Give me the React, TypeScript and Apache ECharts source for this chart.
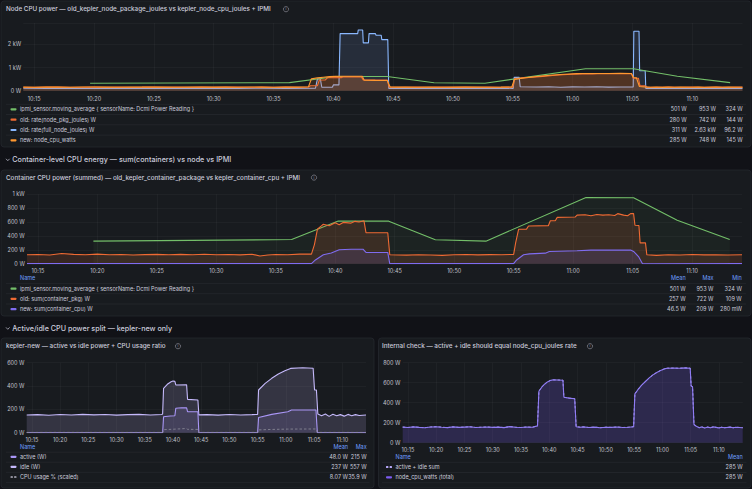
import { useEffect, useRef } from "react";
import * as echarts from "echarts";

// ---- time window shared by every panel ----
const X_MIN = "10:14:05";
const X_MAX = "11:14:12";
const X_TICKS = [
  "10:15", "10:20", "10:25", "10:30", "10:35", "10:40",
  "10:45", "10:50", "10:55", "11:00", "11:05", "11:10",
];

// ---- IPMI moving average (node wall power) ----
const ipmiMovingAvg: [string, number][] = [
  ["10:19:40", 325], ["10:36:20", 348], ["10:40:15", 615], ["10:44:30", 613],
  ["10:48:25", 345], ["10:52:40", 325], ["11:01:05", 953], ["11:05:05", 950],
  ["11:08:45", 625], ["11:13:10", 348],
];

// ---- new exporter: node_cpu_watts ----
const nodeCpuWatts: [string, number][] = [
  ["10:14:05", 156], ["10:15", 152], ["10:16", 158], ["10:17", 153], ["10:18", 150],
  ["10:19", 157], ["10:20", 160], ["10:21", 155], ["10:22", 151], ["10:23", 158],
  ["10:24", 153], ["10:25", 156], ["10:26", 159], ["10:27", 152], ["10:28", 155],
  ["10:29", 157], ["10:30", 153], ["10:31", 156], ["10:32", 151], ["10:33", 161],
  ["10:34", 155], ["10:35", 152], ["10:36", 157], ["10:37", 154], ["10:37:55", 168],
  ["10:38:10", 515], ["10:38:40", 555], ["10:39:10", 585], ["10:39:40", 608],
  ["10:40:10", 622], ["10:40:40", 628], ["10:41:30", 627], ["10:42:25", 625],
  ["10:42:35", 455], ["10:43:30", 446], ["10:44:30", 440], ["10:44:45", 160],
  ["10:45:30", 155], ["10:46", 158], ["10:47", 152], ["10:48", 156], ["10:49", 150],
  ["10:50", 155], ["10:51", 153], ["10:52", 157], ["10:53", 152], ["10:54", 155],
  ["10:54:55", 160], ["10:55:08", 488], ["10:55:40", 530], ["10:56:20", 575],
  ["10:57", 612], ["10:57:40", 648], ["10:58:20", 678], ["10:59", 702],
  ["10:59:40", 722], ["11:00:20", 738], ["11:00:50", 745], ["11:02", 746],
  ["11:03", 744], ["11:04", 748], ["11:04:55", 745], ["11:05:05", 568],
  ["11:05:20", 560], ["11:05:35", 182], ["11:06", 165], ["11:06:30", 150],
  ["11:07", 158], ["11:07:30", 146], ["11:08", 156], ["11:08:30", 150],
  ["11:09", 158], ["11:10", 148], ["11:10:30", 155], ["11:11", 150], ["11:12", 156],
  ["11:12:30", 149], ["11:13", 155], ["11:14:12", 150],
];

// ---- old exporter: rate(node_pkg_joules) ----
const oldNodePkg: [string, number][] = [
  ["10:14:05", 150], ["10:15", 146], ["10:16", 155], ["10:17", 160], ["10:18", 152],
  ["10:19", 148], ["10:20", 156], ["10:21", 150], ["10:22", 158], ["10:23", 147],
  ["10:24", 153], ["10:25", 162], ["10:26", 149], ["10:27", 155], ["10:28", 151],
  ["10:29", 158], ["10:30", 146], ["10:31", 154], ["10:32", 160], ["10:33", 148],
  ["10:34", 155], ["10:35", 150], ["10:36", 157], ["10:37", 152], ["10:37:55", 158],
  ["10:38:05", 215], ["10:38:40", 215], ["10:38:50", 465], ["10:39:20", 470],
  ["10:39:30", 560], ["10:40:40", 565], ["10:40:50", 600], ["10:42:20", 605],
  ["10:42:30", 470], ["10:44:30", 465], ["10:44:40", 152], ["10:45:30", 148],
  ["10:47", 156], ["10:48", 150], ["10:49", 158], ["10:50", 146], ["10:51", 154],
  ["10:52", 150], ["10:53", 156], ["10:54", 148], ["10:55", 155], ["10:55:10", 540],
  ["10:55:35", 545], ["10:55:45", 560], ["10:56:40", 585], ["10:57:30", 620],
  ["10:58:20", 655], ["10:59:10", 690], ["11:00", 710], ["11:00:50", 725],
  ["11:01:40", 730], ["11:02:30", 742], ["11:03:20", 735], ["11:04:10", 740],
  ["11:04:55", 738], ["11:05:05", 540], ["11:05:30", 540], ["11:05:38", 210],
  ["11:06:05", 210], ["11:06:12", 152], ["11:07", 146], ["11:08", 158], ["11:09", 150],
  ["11:10", 155], ["11:11", 144], ["11:12", 156], ["11:13", 150], ["11:14:12", 153],
];

// ---- old exporter: rate(full_node_joules) ----
const oldFullNode: [string, number][] = [
  ["10:14:05", 104], ["10:16", 100], ["10:18", 108], ["10:20", 98], ["10:22", 105],
  ["10:24", 101], ["10:26", 110], ["10:28", 99], ["10:30", 104], ["10:32", 97],
  ["10:34", 106], ["10:36", 100], ["10:38:30", 103], ["10:38:40", 505],
  ["10:38:55", 505], ["10:39:02", 150], ["10:39:55", 150], ["10:40:00", 250],
  ["10:40:28", 250], ["10:40:34", 2470], ["10:42:02", 2470], ["10:42:05", 2630],
  ["10:42:27", 2630], ["10:42:30", 2070], ["10:42:56", 2070], ["10:42:59", 2470],
  ["10:43:31", 2470], ["10:43:34", 2400], ["10:44:00", 2400], ["10:44:03", 2210],
  ["10:44:33", 2210], ["10:44:38", 100], ["10:46", 106], ["10:48", 98], ["10:50", 103],
  ["10:52", 100], ["10:54", 105], ["10:55:02", 102], ["10:55:07", 578],
  ["10:55:32", 578], ["10:55:37", 170], ["10:57", 160], ["10:58", 172], ["10:59", 150],
  ["11:00", 165], ["11:01", 158], ["11:02", 170], ["11:03", 155], ["11:04", 162],
  ["11:05:04", 160], ["11:05:07", 2570], ["11:05:33", 2570], ["11:05:36", 862],
  ["11:06:04", 862], ["11:06:07", 100], ["11:08", 104], ["11:10", 98], ["11:12", 102],
  ["11:14:12", 99],
];

// ---- summed container power ----
const oldContainerPkg: [string, number][] = [
  ["10:14:05", 128], ["10:15", 132], ["10:16", 126], ["10:17", 148], ["10:18", 135],
  ["10:19", 130], ["10:20", 138], ["10:21", 129], ["10:22", 133], ["10:23", 126],
  ["10:24", 131], ["10:25", 135], ["10:26", 128], ["10:27", 134], ["10:28", 130],
  ["10:29", 137], ["10:30", 129], ["10:31", 132], ["10:32", 127], ["10:33", 136],
  ["10:33:40", 112], ["10:34:20", 126], ["10:35", 133], ["10:36", 129], ["10:37", 138],
  ["10:38", 138], ["10:38:15", 275], ["10:38:30", 496], ["10:38:50", 544],
  ["10:39", 569], ["10:39:30", 548], ["10:40", 590], ["10:40:20", 560],
  ["10:40:40", 595], ["10:41:20", 585], ["10:41:40", 610], ["10:42", 600],
  ["10:42:25", 618], ["10:42:35", 447], ["10:44:25", 447], ["10:44:35", 128],
  ["10:46", 123], ["10:47", 130], ["10:48", 126], ["10:49", 120], ["10:50", 128],
  ["10:51", 132], ["10:52", 127], ["10:53", 131], ["10:54", 129], ["10:55", 135],
  ["10:55:10", 300], ["10:55:25", 496], ["10:56:05", 498], ["10:56:15", 544],
  ["10:57:55", 548], ["10:58:05", 618], ["10:58:30", 620], ["10:58:40", 667],
  ["11:00:10", 672], ["11:00:20", 700], ["11:01", 705], ["11:01:30", 690],
  ["11:02", 710], ["11:02:30", 700], ["11:03", 706], ["11:03:30", 695],
  ["11:03:45", 722], ["11:04:15", 700], ["11:04:35", 690], ["11:04:50", 722],
  ["11:05:05", 722], ["11:05:12", 554], ["11:05:32", 550], ["11:05:38", 300],
  ["11:06:05", 300], ["11:06:12", 128], ["11:07", 120], ["11:08", 130], ["11:09", 125],
  ["11:10", 132], ["11:11", 127], ["11:12", 130], ["11:13", 126], ["11:14:12", 129],
];

const newContainerCpu: [string, number][] = [
  ["10:14:05", 0.5], ["10:38", 0.6], ["10:38:20", 54], ["10:39", 128], ["10:39:40", 153],
  ["10:40:20", 201], ["10:41:20", 209], ["10:42:20", 209], ["10:42:35", 162],
  ["10:44:25", 162], ["10:44:35", 0.4], ["10:55", 0.5], ["10:55:15", 54],
  ["10:55:50", 128], ["10:56:20", 142], ["10:57:40", 152], ["10:58", 176],
  ["11:00:20", 186], ["11:01:30", 196], ["11:04:50", 196], ["11:05:05", 176],
  ["11:05:30", 103], ["11:05:50", 0.3], ["11:14:12", 0.5],
];

// ---- kepler-new active / idle split ----
const activeWatts: [string, number][] = [
  ["10:14:05", 0], ["10:38:10", 0], ["10:38:20", 137], ["10:39:30", 143],
  ["10:40:20", 145], ["10:40:30", 209], ["10:41:30", 214], ["10:42:25", 213],
  ["10:42:35", 180], ["10:44:25", 180], ["10:44:35", 0], ["10:55", 0],
  ["10:55:10", 131], ["10:57:30", 157], ["11:00:20", 180], ["11:01", 194],
  ["11:05:20", 194], ["11:05:35", 0], ["11:14:12", 0],
];

const idleWatts: [string, number][] = [
  ["10:14:05", 152], ["10:16", 155], ["10:18", 150], ["10:20", 156], ["10:22", 152],
  ["10:24", 157], ["10:26", 153], ["10:28", 156], ["10:30", 151], ["10:32", 155],
  ["10:34", 157], ["10:36", 152], ["10:38", 156], ["10:38:10", 160], ["10:38:20", 380],
  ["10:39", 415], ["10:39:40", 437], ["10:40", 443], ["10:40:20", 440],
  ["10:40:30", 409], ["10:42:25", 410], ["10:42:35", 286], ["10:44:25", 280],
  ["10:44:35", 153], ["10:46", 155], ["10:48", 151], ["10:50", 156], ["10:52", 152],
  ["10:54", 155], ["10:55", 157], ["10:55:10", 366], ["10:56:20", 423],
  ["10:57:30", 466], ["10:58:40", 503], ["10:59:50", 531], ["11:00:50", 551],
  ["11:03", 557], ["11:04:50", 552], ["11:05:05", 366], ["11:05:25", 366],
  ["11:05:40", 160], ["11:06:20", 145], ["11:07", 160], ["11:07:40", 140],
  ["11:08:20", 158], ["11:09", 145], ["11:09:40", 155], ["11:10:20", 142],
  ["11:11", 157], ["11:11:40", 146], ["11:12:20", 155], ["11:13", 148], ["11:14:12", 152],
];

const cpuUsageScaled: [string, number][] = [
  ["10:14:05", 2.2], ["10:20", 2.6], ["10:30", 2.3], ["10:38:10", 2.5], ["10:38:20", 26],
  ["10:40:30", 31], ["10:42:25", 35.9], ["10:42:35", 29], ["10:44:25", 28],
  ["10:44:35", 2.4], ["10:55", 2.5], ["10:55:10", 24], ["10:57:30", 28],
  ["11:00:20", 31], ["11:05:20", 32], ["11:05:35", 2.6], ["11:14:12", 2.3],
];

// ---- legend tables ----
const nodeLegendNames = [
  "ipmi_sensor.moving_average { sensorName: Dcmi Power Reading }",
  "old: rate(node_pkg_joules) W",
  "old: rate(full_node_joules) W",
  "new: node_cpu_watts",
];
const nodeLegendStats = [
  ["501 W", "953 W", "324 W"],
  ["280 W", "742 W", "144 W"],
  ["311 W", "2.63 kW", "96.2 W"],
  ["285 W", "748 W", "145 W"],
];
const containerLegendNames = [
  "ipmi_sensor.moving_average { sensorName: Dcmi Power Reading }",
  "old: sum(container_pkg) W",
  "new: sum(container_cpu) W",
];
const containerLegendStats = [
  ["501 W", "953 W", "324 W"],
  ["257 W", "722 W", "109 W"],
  ["46.5 W", "209 W", "280 mW"],
];
const splitLegendNames = ["active (W)", "idle (W)", "CPU usage % (scaled)"];
const splitLegendStats = [
  ["48.0 W", "215 W"],
  ["237 W", "557 W"],
  ["8.07 W", "35.9 W"],
];
const checkLegendNames = ["active + idle sum", "node_cpu_watts (total)"];
const checkLegendStats = [["285 W"], ["285 W"]];

// ---- styling ----
const FONT = "Inter, 'Noto Sans', sans-serif";
const TXT = "#ccccdc";
const AXIS_TXT = "#c2c3cc";
const GRID_LINE = "rgba(204,204,220,0.08)";
const SEP_LINE = "rgba(204,204,220,0.10)";
const HEAD_BLUE = "#6e9fff";
const PANEL_BG = "#181b1f";
const PANEL_BORDER = "#25282e";

const C_IPMI = "#73bf69";
const C_OLD_PKG = "#ef6a33";
const C_NEW_CPU = "#ff9830";
const C_FULL = "#8ab8ff";
const C_CONT_NEW = "#7f6cf0";
const C_ACTIVE = "#a996f6";
const C_IDLE = "#c5b9fb";
const C_USAGE = "#8e8e9a";
const C_SUM = "#b7a9f8";
const C_TOTAL = "#7c5cf2";

const ts = (hms: string) => {
  const [h, m, s] = hms.split(":").map(Number);
  return Date.UTC(2024, 0, 1, h, m, s || 0);
};
const pts = (rows: [string, number][]) => rows.map(([t, v]) => [ts(t), v]);
const pad = (n: number) => (n < 10 ? "0" : "") + n;
const X_TICK_VALUES = X_TICKS.map(ts);

function lineSeries(
  rows: [string, number][],
  color: string,
  idx: number,
  opts: { fill?: number; fillColor?: string; dash?: boolean; z?: number; width?: number } = {}
) {
  return {
    type: "line",
    xAxisIndex: idx,
    yAxisIndex: idx,
    data: pts(rows),
    symbol: "none",
    showSymbol: false,
    z: opts.z ?? 2,
    lineStyle: { color, width: opts.width ?? 1.1, type: opts.dash ? [2.5, 2] : "solid" },
    itemStyle: { color },
    areaStyle: opts.fill ? { color: opts.fillColor ?? color, opacity: opts.fill } : undefined,
  };
}

const grids = [
  { left: 23.3, top: 23, width: 719.2, height: 67.7 },
  { left: 27, top: 194.3, width: 715, height: 69.4 },
  { left: 26.7, top: 362.7, width: 339.3, height: 70 },
  { left: 402.7, top: 362.7, width: 340, height: 80 },
];

const yFormat = (v: number) =>
  v === 0 ? "0 W" : v >= 1000 ? `${v / 1000} kW` : `${v} W`;

const yMax = [2930, 1000, 600, 800];
const yStep = [1000, 200, 200, 200];
const xLabelMargin = [5, 4.5, 4, 4.5];

type G = Record<string, unknown>;

function txt(x: number, y: number, text: string, o: G = {}): G {
  return {
    type: "text",
    x,
    y,
    silent: true,
    style: {
      text,
      fill: (o.fill as string) ?? TXT,
      fontSize: (o.size as number) ?? 5.5,
      fontFamily: FONT,
      fontWeight: (o.weight as number) ?? 400,
      align: (o.align as string) ?? "left",
      verticalAlign: "middle",
    },
  };
}

function hline(x1: number, x2: number, y: number, color = SEP_LINE): G {
  return {
    type: "line",
    silent: true,
    shape: { x1, y1: y, x2, y2: y },
    style: { stroke: color, lineWidth: 0.6 },
  };
}

function panel(x: number, y: number, w: number, h: number): G {
  return {
    type: "rect",
    silent: true,
    z: -10,
    shape: { x, y, width: w, height: h, r: 3 },
    style: { fill: PANEL_BG, stroke: PANEL_BORDER, lineWidth: 0.8 },
  };
}

function infoIcon(cx: number, cy: number): G[] {
  return [
    {
      type: "circle",
      silent: true,
      shape: { cx, cy, r: 2.6 },
      style: { fill: "none", stroke: "#9a9aa6", lineWidth: 0.6 },
    },
    txt(cx, cy + 0.2, "i", { size: 3.6, align: "center", fill: "#9a9aa6" }),
  ];
}

function chevron(x: number, y: number): G {
  return {
    type: "polyline",
    silent: true,
    shape: { points: [[x, y - 1], [x + 1.8, y + 0.9], [x + 3.6, y - 1]] },
    style: { stroke: TXT, lineWidth: 0.7, fill: "none" },
  };
}

function swatch(x: number, y: number, color: string, dash = false): G[] {
  if (dash) {
    return [
      { type: "rect", silent: true, shape: { x, y: y - 1, width: 2.4, height: 2, r: 0.6 }, style: { fill: color } },
      { type: "rect", silent: true, shape: { x: x + 3.6, y: y - 1, width: 2.4, height: 2, r: 0.6 }, style: { fill: color } },
    ];
  }
  return [
    { type: "rect", silent: true, shape: { x, y: y - 1.1, width: 6, height: 2.2, r: 0.8 }, style: { fill: color } },
  ];
}

function legendTable(
  names: string[],
  stats: string[][],
  colors: string[],
  dashes: boolean[],
  rowsY: number[],
  sepY: number[],
  nameX: number,
  colRight: number[],
  sepX: [number, number],
  header?: { y: number; labels: string[] }
): G[] {
  const out: G[] = [];
  sepY.forEach((y) => out.push(hline(sepX[0], sepX[1], y)));
  if (header) {
    out.push(txt(nameX, header.y, "Name", { fill: HEAD_BLUE }));
    header.labels.forEach((l, i) =>
      out.push(txt(colRight[i], header.y, l, { fill: HEAD_BLUE, align: "right" }))
    );
  }
  names.forEach((n, i) => {
    out.push(...swatch(nameX - 9.5, rowsY[i], colors[i], dashes[i]));
    out.push(txt(nameX, rowsY[i], n));
    stats[i].forEach((s, j) => out.push(txt(colRight[j], rowsY[i], s, { align: "right" })));
  });
  return out;
}

function buildOption() {
  const graphics: G[] = [
    panel(1, 1, 750, 146),
    panel(1, 170, 750, 146),
    panel(1, 338, 373, 150),
    panel(378.5, 338, 372.5, 150),

    txt(6, 9.2, "Node CPU power — old_kepler_node_package_joules vs kepler_node_cpu_joules + IPMI", { size: 6.3, weight: 500 }),
    ...infoIcon(286, 9.2),
    chevron(6, 159.8),
    txt(12.3, 159.8, "Container-level CPU energy — sum(containers) vs node vs IPMI", { size: 7.2, weight: 500 }),
    txt(6, 177.6, "Container CPU power (summed) — old_kepler_container_package vs kepler_container_cpu + IPMI", { size: 6.3, weight: 500 }),
    ...infoIcon(314, 177.6),
    chevron(6, 328.4),
    txt(12.3, 328.4, "Active/idle CPU power split — kepler-new only", { size: 7.2, weight: 500 }),
    txt(6, 346.2, "kepler-new — active vs idle power + CPU usage ratio", { size: 6.3, weight: 500 }),
    ...infoIcon(178, 346.2),
    txt(382, 346.2, "Internal check — active + idle should equal node_cpu_joules rate", { size: 6.3, weight: 500 }),
    ...infoIcon(590, 346.2),

    ...legendTable(
      nodeLegendNames, nodeLegendStats,
      [C_IPMI, C_OLD_PKG, C_FULL, C_NEW_CPU], [false, false, false, false],
      [109.3, 119.7, 130, 140.3], [104.3, 114.5, 124.8, 135.1],
      20, [686.7, 716, 742.7], [6, 746]
    ),
    ...legendTable(
      containerLegendNames, containerLegendStats,
      [C_IPMI, C_OLD_PKG, C_CONT_NEW], [false, false, false],
      [288.6, 298.8, 309.2], [283.4, 293.7, 304],
      20, [685.7, 713.5, 741.8], [6, 746],
      { y: 278.2, labels: ["Mean", "Max", "Min"] }
    ),
    ...legendTable(
      splitLegendNames, splitLegendStats,
      [C_ACTIVE, C_IDLE, C_USAGE], [false, false, true],
      [456.8, 466.8, 477], [452.2, 462.2, 472.3, 482.6],
      20, [348, 366.7], [6, 369.5],
      { y: 447, labels: ["Mean", "Max"] }
    ),
    ...legendTable(
      checkLegendNames, checkLegendStats,
      [C_SUM, C_TOTAL], [true, false],
      [467, 477.3], [462.3, 472.5, 482.7],
      395.5, [742.7], [382, 746.5],
      { y: 457, labels: ["Mean"] }
    ),
  ];

  return {
    animation: false,
    backgroundColor: "#111217",
    textStyle: { fontFamily: FONT },
    grid: grids.map((g) => ({ ...g, containLabel: false })),
    xAxis: grids.map((_, i) => ({
      type: "value",
      gridIndex: i,
      min: ts(X_MIN),
      max: ts(X_MAX),
      axisLine: { show: false },
      axisTick: { show: false, customValues: X_TICK_VALUES },
      axisLabel: {
        color: AXIS_TXT,
        fontSize: 5.5,
        fontFamily: FONT,
        margin: xLabelMargin[i],
        customValues: X_TICK_VALUES,
        formatter: (v: number) => {
          const d = new Date(v);
          return `${pad(d.getUTCHours())}:${pad(d.getUTCMinutes())}`;
        },
      },
      splitLine: { show: true, lineStyle: { color: GRID_LINE, width: 0.6 } },
    })),
    yAxis: grids.map((_, i) => ({
      type: "value",
      gridIndex: i,
      min: 0,
      max: yMax[i],
      interval: yStep[i],
      axisLine: { show: false },
      axisTick: { show: false },
      axisLabel: {
        color: AXIS_TXT,
        fontSize: 5.5,
        fontFamily: FONT,
        margin: 2.2,
        showMaxLabel: i === 0 ? false : true,
        formatter: yFormat,
      },
      splitLine: { show: true, lineStyle: { color: GRID_LINE, width: 0.6 } },
    })),
    series: [
      // panel 1
      lineSeries(oldFullNode, C_FULL, 0, { fill: 0.12, z: 2 }),
      lineSeries(ipmiMovingAvg, C_IPMI, 0, { z: 3 }),
      lineSeries(oldNodePkg, C_OLD_PKG, 0, { fill: 0.15, z: 4 }),
      lineSeries(nodeCpuWatts, C_NEW_CPU, 0, { fill: 0.12, z: 5 }),
      // panel 2
      lineSeries(ipmiMovingAvg, C_IPMI, 1, { fill: 0.05, z: 2 }),
      lineSeries(oldContainerPkg, C_OLD_PKG, 1, { fill: 0.14, z: 3 }),
      lineSeries(newContainerCpu, C_CONT_NEW, 1, { fill: 0.14, z: 4 }),
      // panel 3
      lineSeries(idleWatts, C_IDLE, 2, { fill: 0.16, z: 2 }),
      lineSeries(activeWatts, C_ACTIVE, 2, { fill: 0.14, z: 3 }),
      lineSeries(cpuUsageScaled, C_USAGE, 2, { dash: true, z: 4, width: 0.8 }),
      // panel 4
      lineSeries(nodeCpuWatts, C_SUM, 3, { dash: true, z: 2, width: 1 }),
      lineSeries(nodeCpuWatts, "#8f7cf4", 3, { fill: 0.22, fillColor: C_TOTAL, z: 3, width: 1.1 }),
    ],
    graphic: { elements: graphics },
  };
}

export default function App() {
  const ref = useRef<HTMLDivElement>(null);
  useEffect(() => {
    if (!ref.current) return;
    const chart = echarts.init(ref.current, null, { renderer: "svg" });
    chart.setOption(buildOption() as any);
    return () => chart.dispose();
  }, []);
  return (
    <div
      ref={ref}
      style={{ position: "absolute", left: 0, top: 0, width: 752, height: 489 }}
    />
  );
}
